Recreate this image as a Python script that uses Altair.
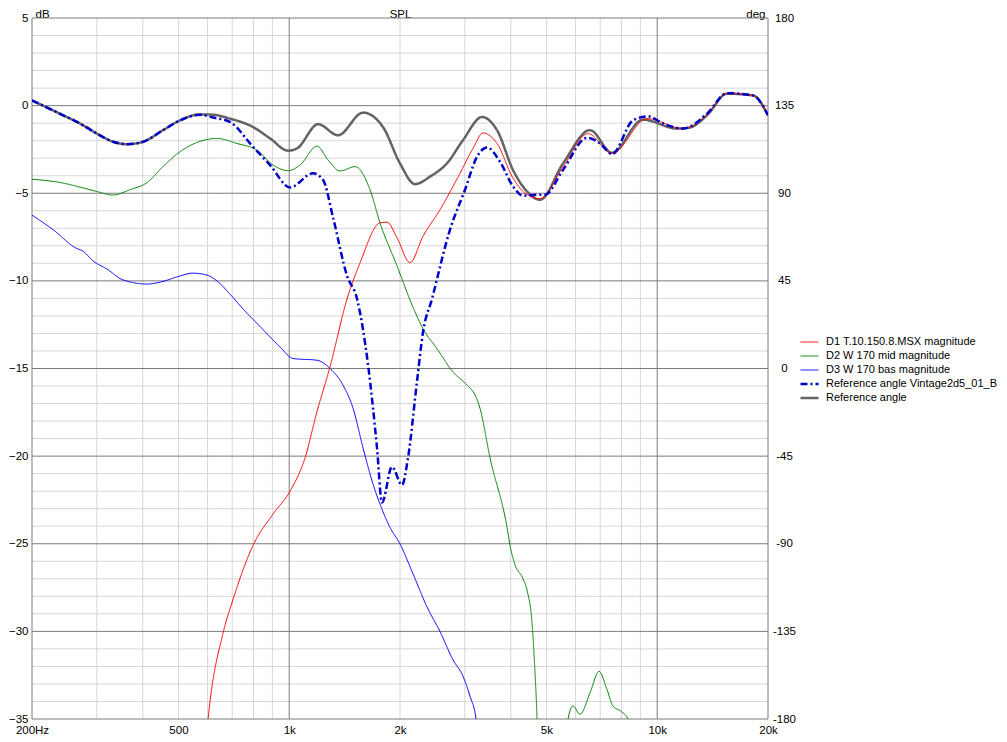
import altair as alt
import pandas as pd

FONT = "Liberation Sans"

# ---------------- series data (frequency Hz, level dB) ----------------
d1_freq = [590, 602, 661, 703, 797, 904, 1005, 1104, 1190, 1291, 1436, 1558, 1765, 1844,
           1963, 2129, 2310, 2569, 2911, 3158, 3362, 3670, 4056, 4428, 4803, 5546, 6486,
           7536, 9379, 11750, 13656, 15479, 18210, 20000]
d1_db = [-37, -35, -30.1, -28.2, -25.1, -23.3, -22.0, -20.1, -17.45, -14.9, -11.03, -8.96,
         -6.69, -6.65, -7.54, -8.96, -7.45, -5.94, -3.86, -2.44, -1.56, -2.16, -4.14, -5.08,
         -5.31, -3.5, -1.6, -2.73, -0.74, -1.31, -0.5, 0.70, 0.58, -0.55]

d2_freq = [200, 243, 270, 300, 332, 369, 411, 454, 505, 562, 636, 721, 817, 904, 993, 1070,
           1190, 1275, 1374, 1510, 1658, 1765, 1963, 2169, 2310, 2521, 2786, 3042, 3198, 3299,
           3513, 3907, 3981, 4108, 4318, 4428, 4569, 4655, 4714, 4743]
d2_db = [-4.2, -4.42, -4.65, -4.90, -5.10, -4.80, -4.39, -3.48, -2.63, -2.10, -1.87, -2.16,
         -2.54, -3.39, -3.71, -3.39, -2.31, -3.10, -3.73, -3.48, -4.80, -6.69, -9.15, -11.5,
         -12.73, -13.87, -15.19, -15.95, -16.51, -17.27, -20.1, -24.07, -25.1, -26.2, -27.0,
         -27.65, -29.54, -32.37, -35, -37]

d2_tail_freq = [5687, 5723, 5905, 6169, 6567, 6948, 7303, 7583, 8022, 8329, 8434]
d2_tail_db = [-37, -35, -34.26, -34.73, -33.51, -32.28, -33.32, -34.26, -34.60, -35, -36]

d3_freq = [200, 228, 265, 275, 293, 320, 353, 411, 454, 496, 548, 598, 636, 690, 749, 833,
           944, 1024, 1190, 1291, 1400, 1491, 1587, 1690, 1765, 1879, 2000, 2169, 2368, 2569,
           2786, 2966, 3099, 3218, 3258]
d3_db = [-6.25, -7.07, -8.16, -8.30, -8.86, -9.33, -9.94, -10.18, -10.03, -9.77, -9.56, -9.67,
         -10.0, -10.75, -11.6, -12.6, -13.77, -14.43, -14.53, -15.0, -15.95, -17.27, -19.53,
         -21.61, -22.74, -24.07, -25.01, -26.71, -28.6, -30.01, -31.62, -32.56, -33.7, -35, -36]

vint_freq = [200, 243, 270, 300, 332, 362, 401, 454, 505, 572, 621, 690, 797, 887, 1005, 1161,
             1236, 1316, 1436, 1529, 1638, 1732, 1787, 1902, 2025, 2103, 2224, 2310, 2443, 2735,
             3004, 3238, 3447, 3739, 4056, 4318, 4714, 4956, 5546, 6445, 6991, 7536, 8593, 9438,
             10368, 11750, 13656, 15479, 18210, 20000]
vint_db = [0.3, -0.55, -1.02, -1.59, -2.06, -2.20, -2.06, -1.40, -0.84, -0.52, -0.68, -0.93,
           -2.35, -3.39, -4.67, -3.86, -4.24, -6.4, -9.71, -11.03, -14.81, -19.53, -22.65, -20.61,
           -21.65, -20.1, -15.75, -12.92, -11.03, -7.07, -4.80, -2.92, -2.39, -3.20, -4.61, -5.14,
           -5.08, -5.08, -3.67, -1.84, -2.16, -2.76, -0.84, -0.61, -1.02, -1.31, -0.46, 0.71, 0.58,
           -0.55]

ref_freq = [200, 243, 270, 300, 332, 362, 401, 454, 505, 572, 621, 690, 797, 887, 993, 1050,
            1198, 1357, 1587, 1798, 2000, 2197, 2413, 2684, 2966, 3341, 3670, 4056, 4428, 4803,
            5546, 6567, 7536, 9147, 11316, 12276, 13656, 15479, 18210, 20000]
ref_db = [0.3, -0.55, -1.02, -1.59, -2.06, -2.20, -2.06, -1.40, -0.84, -0.50, -0.52, -0.74,
          -1.22, -1.87, -2.57, -2.44, -1.06, -1.69, -0.40, -1.22, -3.3, -4.48, -4.05, -3.29,
          -1.97, -0.65, -1.40, -3.67, -4.90, -5.37, -3.3, -1.40, -2.69, -0.80, -1.31, -1.25,
          -0.55, 0.68, 0.58, -0.55]

SERIES = ["D1 T.10.150.8.MSX magnitude", "D2 W 170 mid magnitude", "D3 W 170 bas magnitude",
          "Reference angle Vintage2d5_01_B", "Reference angle"]
COLORS = ["#ff0000", "#008000", "#0000ff", "#0000cc", "#636363"]
DASHES = [[1, 0], [1, 0], [1, 0], [7, 3, 2, 3], [1, 0]]
WIDTHS = [1, 1, 1, 2.5, 2.5]

# grid / tick values
minor_freq = [300, 400, 500, 600, 700, 800, 900, 2000, 3000, 4000, 5000, 6000, 7000, 8000, 9000]
major_freq = [200, 1000, 10000, 20000]
minor_db = [v for v in range(-35, 6) if v % 5 != 0]
major_db = list(range(-35, 10, 5))
x_label_vals = [200, 500, 1000, 2000, 5000, 10000, 20000]

rows = []
def add(name, seg, fs, ds):
    for f, d in zip(fs, ds):
        rows.append({"series": name, "seg": seg, "freq": f, "db": d})

add(SERIES[0], "a", d1_freq, d1_db)
add(SERIES[1], "a", d2_freq, d2_db)
add(SERIES[1], "b", d2_tail_freq, d2_tail_db)
add(SERIES[2], "a", d3_freq, d3_db)
add(SERIES[3], "a", vint_freq, vint_db)
add(SERIES[4], "a", ref_freq, ref_db)
df = pd.DataFrame(rows)

W, H = 736, 701
x_scale = alt.Scale(type="log", domain=[200, 20000], nice=False)
y_scale = alt.Scale(domain=[-35, 5], nice=False, zero=False)

x_axis = alt.Axis(values=x_label_vals,
                  labelExpr="datum.value == 200 ? '200Hz' : (datum.value >= 1000 ? (datum.value / 1000) + 'k' : '' + datum.value)",
                  ticks=False, domain=False, grid=False, labelPadding=5, labelFlush=False,
                  labelOverlap=False, title="SPL", titleX=W / 2, titleY=-(H + 1),
                  titleAlign="center", titleBaseline="alphabetic", titleAngle=0)
left_axis = alt.Axis(values=major_db, ticks=False, domain=False, grid=False, labelPadding=4,
                     labelOverlap=False, labelFlush=False, title="dB", titleAngle=0,
                     titleAlign="left", titleBaseline="alphabetic", titleX=3, titleY=-1)
right_axis = alt.Axis(orient="right", values=major_db, labelExpr="'' + (135 + 9 * datum.value)",
                      ticks=False, domain=False, grid=False, labelPadding=16, labelAlign="center",
                      labelOverlap=False, labelFlush=False, title="deg", titleAngle=0,
                      titleAlign="right", titleBaseline="alphabetic", titleX=-3, titleY=-1)

minor_v = alt.Chart(pd.DataFrame({"freq": minor_freq})).mark_rule(color="#d6d6d6", strokeWidth=1).encode(
    x=alt.X("freq:Q", scale=x_scale, axis=x_axis))
minor_h = alt.Chart(pd.DataFrame({"db": minor_db})).mark_rule(color="#d6d6d6", strokeWidth=1).encode(
    y=alt.Y("db:Q", scale=y_scale, axis=right_axis))
major_v = alt.Chart(pd.DataFrame({"freq": major_freq})).mark_rule(color="#7a7a7a", strokeWidth=1).encode(
    x=alt.X("freq:Q", scale=x_scale, axis=x_axis))
major_h = alt.Chart(pd.DataFrame({"db": major_db})).mark_rule(color="#7a7a7a", strokeWidth=1).encode(
    y=alt.Y("db:Q", scale=y_scale, axis=left_axis))

legend = alt.Legend(title=None, orient="none", legendX=767, legendY=318, symbolType="stroke",
                    symbolSize=324, labelFont=FONT, labelFontSize=11, labelColor="#000000",
                    labelOffset=6, rowPadding=2, clipHeight=12, padding=0, labelLimit=400)

color_scale = alt.Scale(domain=SERIES, range=COLORS)
dash_scale = alt.Scale(domain=SERIES, range=DASHES)
width_scale = alt.Scale(type="ordinal", domain=SERIES, range=WIDTHS)


def line(name):
    return alt.Chart(df).transform_filter(alt.datum.series == name).mark_line(
        interpolate="monotone", clip=True).encode(
        x=alt.X("freq:Q", scale=x_scale, axis=x_axis),
        y=alt.Y("db:Q", scale=y_scale, axis=None),
        color=alt.Color("series:N", scale=color_scale, legend=legend),
        strokeDash=alt.StrokeDash("series:N", scale=dash_scale, legend=legend),
        strokeWidth=alt.StrokeWidth("series:N", scale=width_scale, legend=legend),
        detail="seg:N",
    )

order = [SERIES[4], SERIES[1], SERIES[2], SERIES[0], SERIES[3]]
lines = [line(n) for n in order]

chart = alt.layer(minor_v, minor_h, major_v, major_h, *lines).resolve_axis(
    y="independent"
).properties(
    width=W, height=H,
    padding={"left": 24, "top": 10, "right": 230, "bottom": 15},
    autosize=alt.AutoSizeParams(type="none"),
    background="white",
).configure_view(stroke=None).configure_axis(
    labelFont=FONT, labelFontSize=11.5, labelColor="#000000",
    titleFont=FONT, titleFontSize=11.5, titleFontWeight="normal", titleColor="#000000",
)

chart.save("out.html", embed_options={"renderer": "svg", "actions": False})
